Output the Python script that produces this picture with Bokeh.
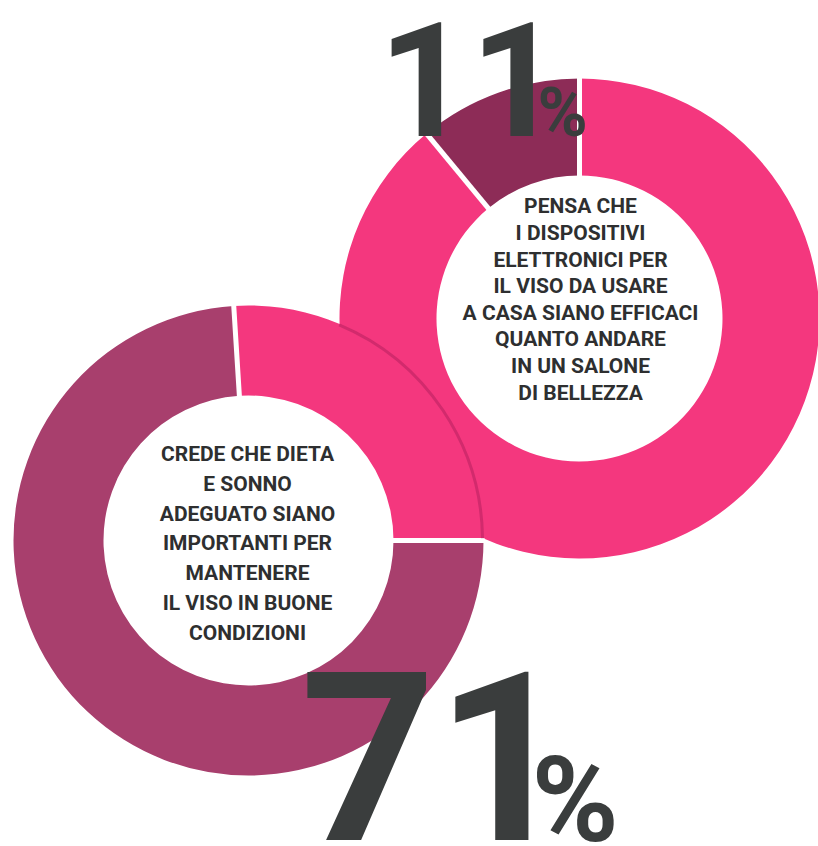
import math
from bokeh.plotting import figure
from bokeh.models import Range1d, ColumnDataSource
from bokeh.core.properties import value
from bokeh.embed import file_html
from bokeh.resources import INLINE

# ---- data ----
top_parts = ["dark", "pink"]
top_values = [11, 89]          # share of the ring (percent)
bottom_parts = ["pink", "dark"]
bottom_values = [26, 74]       # share of the ring as drawn (percent)
top_pct = "11"
bottom_pct = "71"
top_caption = ("PENSA CHE\nI DISPOSITIVI\nELETTRONICI PER\nIL VISO DA USARE\n"
               "A CASA SIANO EFFICACI\nQUANTO ANDARE\nIN UN SALONE\nDI BELLEZZA")
bottom_caption = ("CREDE CHE DIETA\nE SONNO\nADEGUATO SIANO\nIMPORTANTI PER\n"
                  "MANTENERE\nIL VISO IN BUONE\nCONDIZIONI")

W, H = 818, 846
FONT = value("Roboto")
TEXT_COL = "#2e2f30"
NUM_COL = "#3a3d3d"

p = figure(width=W, height=H, x_range=Range1d(0, W), y_range=Range1d(0, H),
           output_backend="svg", toolbar_location=None, min_border=0,
           background_fill_color="white", border_fill_color="white")
p.axis.visible = False
p.xgrid.visible = False
p.ygrid.visible = False
p.outline_line_color = None


def ring(cx, cy, r_in, r_out, parts, values, start_deg, colors):
    total = float(sum(values))
    starts, ends, cols = [], [], []
    a = math.radians(start_deg)
    for part, v in zip(parts, values):
        b = a + 2 * math.pi * v / total
        starts.append(a)
        ends.append(b)
        cols.append(colors[part])
        a = b
    src = ColumnDataSource(dict(x=[cx] * len(parts), y=[cy] * len(parts),
                                start=starts, end=ends, color=cols))
    p.annular_wedge(x="x", y="y", inner_radius=r_in, outer_radius=r_out,
                    start_angle="start", end_angle="end", fill_color="color",
                    line_color=None, direction="anticlock", source=src)
    # white separators at each boundary
    x0 = [cx + (r_in - 2) * math.cos(t) for t in starts]
    y0 = [cy + (r_in - 2) * math.sin(t) for t in starts]
    x1 = [cx + (r_out + 1) * math.cos(t) for t in starts]
    y1 = [cy + (r_out + 1) * math.sin(t) for t in starts]
    p.segment(x0=x0, y0=y0, x1=x1, y1=y1, line_color="white", line_width=5)
    return starts, ends


# top-right donut (drawn first, lies behind)
TCX, TCY, TR_IN, TR_OUT = 579, H - 318, 143, 240
ring(TCX, TCY, TR_IN, TR_OUT, top_parts, top_values, 90,
     {"dark": "#8d2c57", "pink": "#f4377e"})

# bottom-left donut (in front)
BCX, BCY, BR_IN, BR_OUT = 248, H - 540, 145, 235
bs, be = ring(BCX, BCY, BR_IN, BR_OUT, bottom_parts, bottom_values, 0,
              {"dark": "#a83f6d", "pink": "#f4377e"})

# soft shadow of the front ring's edge where it overlaps the back ring
dx, dy = TCX - BCX, TCY - BCY
d = math.hypot(dx, dy)
a_len = (BR_OUT ** 2 - TR_OUT ** 2 + d ** 2) / (2 * d)
h_len = math.sqrt(BR_OUT ** 2 - a_len ** 2)
ux, uy = dx / d, dy / d
ix, iy = BCX + a_len * ux - h_len * uy, BCY + a_len * uy + h_len * ux
end_shadow = math.atan2(iy - BCY, ix - BCX)
p.arc(x=BCX, y=BCY, radius=BR_OUT - 1, start_angle=bs[0] + 0.01,
      end_angle=end_shadow, line_color="#b01e5c", line_alpha=0.5, line_width=3)

# captions
p.text(x=[TCX + 1], y=[H - 299], text=[top_caption], text_font=FONT,
       text_font_size=value("21px"), text_font_style="bold",
       text_align="center", text_baseline="middle", text_line_height=1.11,
       text_color=TEXT_COL)
p.text(x=[BCX - 1], y=[H - 543], text=[bottom_caption], text_font=FONT,
       text_font_size=value("21px"), text_font_style="bold",
       text_align="center", text_baseline="middle", text_line_height=1.24,
       text_color=TEXT_COL)

# big percentages
p.text(x=[378], y=[H - 78], text=[top_pct], text_font=FONT,
       text_font_size=value("160px"), text_font_style="bold",
       text_align="left", text_baseline="middle", text_color=NUM_COL)
p.text(x=[537], y=[H - 112], text=["%"], text_font=FONT,
       text_font_size=value("68px"), text_font_style="bold",
       text_align="left", text_baseline="middle", text_color=NUM_COL)
p.text(x=[300], y=[H - 755], text=[bottom_pct], text_font=FONT,
       text_font_size=value("236px"), text_font_style="bold",
       text_align="left", text_baseline="middle", text_color=NUM_COL)
p.text(x=[531], y=[H - 800], text=["%"], text_font=FONT,
       text_font_size=value("118px"), text_font_style="bold",
       text_align="left", text_baseline="middle", text_color=NUM_COL)

open("out.html", "w").write(file_html(p, INLINE))
